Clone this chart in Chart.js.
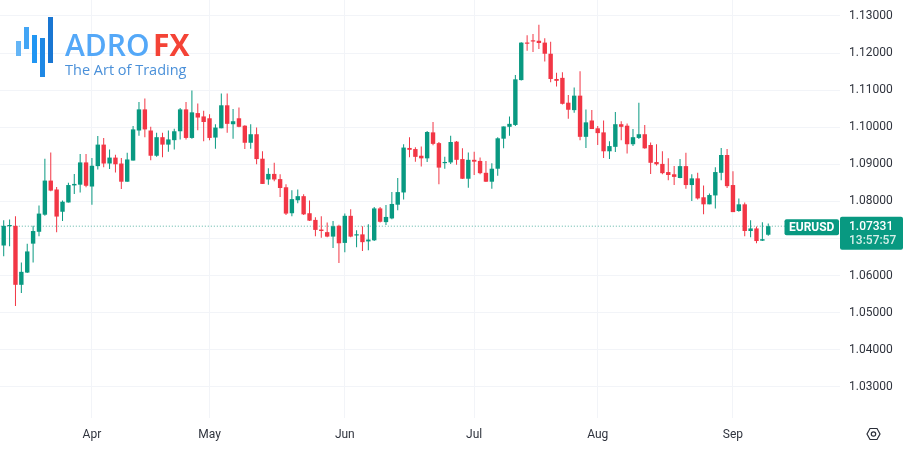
<!DOCTYPE html>
<html><head><meta charset="utf-8">
<style>html,body{margin:0;padding:0;background:#fff}canvas{display:block}</style>
<script src="https://cdn.jsdelivr.net/npm/chart.js@4"></script>
</head><body><canvas id="c" width="904" height="452"></canvas>
<script>
const opens=[1.0681,1.0733,1.0734,1.0575,1.0608,1.0686,1.0718,1.0764,1.0856,1.0832,
1.0772,1.0797,1.0843,1.0845,1.0905,1.0840,1.0895,1.0953,1.0902,1.0918,
1.0902,1.0853,1.0910,1.0991,1.1048,1.0991,1.0923,1.0973,1.0953,1.0965,
1.0989,1.1048,1.0971,1.1038,1.1029,1.1024,1.0972,1.0997,1.1059,1.1008,
1.1024,1.1004,1.0958,1.0981,1.0915,1.0859,1.0874,1.0860,1.0838,1.0768,
1.0803,1.0814,1.0768,1.0750,1.0724,1.0717,1.0705,1.0734,1.0688,1.0761,
1.0708,1.0711,1.0692,1.0695,1.0781,1.0744,1.0754,1.0791,1.0824,1.0944,
1.0941,1.0923,1.0916,1.0986,1.0957,1.0903,1.0905,1.0961,1.0914,1.0861,
1.0912,1.0909,1.0877,1.0853,1.0888,1.0969,1.1001,1.1006,1.1127,1.1228,
1.1233,1.1233,1.1228,1.1198,1.1130,1.1133,1.1066,1.1046,1.1085,1.0974,
1.1018,1.0997,1.0986,1.0935,1.0947,1.1008,1.1004,1.0954,1.0971,1.0981,
1.0952,1.0906,1.0901,1.0879,1.0873,1.0863,1.0895,1.0844,1.0862,1.0811,
1.0792,1.0816,1.0877,1.0925,1.0844,1.0774,1.0792,1.0720,1.0727,1.0694,1.0710];
const highs=[1.0749,1.0751,1.0760,1.0635,1.0686,1.0734,1.0789,1.0915,1.0932,1.0839,
1.0802,1.0850,1.0874,1.0928,1.0928,1.0917,1.0976,1.0971,1.0940,1.0926,
1.0917,1.0931,1.1003,1.1068,1.1077,1.1001,1.0985,1.0985,1.0991,1.0996,
1.1052,1.1068,1.1099,1.1064,1.1044,1.1035,1.1008,1.1091,1.1091,1.1049,
1.1053,1.1005,1.1008,1.0999,1.0935,1.0889,1.0904,1.0873,1.0846,1.0830,
1.0832,1.0819,1.0802,1.0757,1.0760,1.0743,1.0747,1.0737,1.0767,1.0779,
1.0722,1.0733,1.0738,1.0785,1.0785,1.0790,1.0825,1.0863,1.0954,1.0973,
1.0946,1.0948,1.0990,1.1014,1.0960,1.0920,1.0977,1.0963,1.0943,1.0932,
1.0934,1.0918,1.0909,1.0903,1.0973,1.1002,1.1029,1.1141,1.1229,1.1248,
1.1251,1.1276,1.1240,1.1230,1.1147,1.1148,1.1087,1.1107,1.1151,1.1048,
1.1046,1.1003,1.1018,1.0962,1.1041,1.1016,1.1010,1.0995,1.1066,1.1006,
1.0959,1.0954,1.0935,1.0916,1.0895,1.0914,1.0931,1.0873,1.0877,1.0843,
1.0821,1.0892,1.0944,1.0941,1.0881,1.0808,1.0797,1.0749,1.0732,1.0744,1.0740];
const lows=[1.0652,1.0679,1.0518,1.0553,1.0607,1.0635,1.0706,1.0761,1.0827,1.0717,
1.0747,1.0797,1.0820,1.0824,1.0838,1.0791,1.0886,1.0892,1.0887,1.0878,
1.0833,1.0853,1.0910,1.0977,1.0973,1.0911,1.0920,1.0919,1.0934,1.0940,
1.0967,1.0967,1.0969,1.0992,1.0962,1.0965,1.0942,1.0997,1.0985,1.0969,
1.1000,1.0941,1.0942,1.0900,1.0847,1.0845,1.0854,1.0812,1.0763,1.0760,
1.0795,1.0763,1.0747,1.0706,1.0702,1.0703,1.0674,1.0634,1.0663,1.0703,
1.0676,1.0666,1.0668,1.0693,1.0743,1.0736,1.0752,1.0776,1.0805,1.0919,
1.0907,1.0894,1.0906,1.0951,1.0846,1.0888,1.0901,1.0899,1.0860,1.0837,
1.0871,1.0873,1.0852,1.0834,1.0869,1.0943,1.0977,1.1003,1.1126,1.1206,
1.1203,1.1211,1.1177,1.1121,1.1110,1.1061,1.1023,1.1039,1.0965,1.0944,
1.0995,1.0952,1.0917,1.0914,1.0933,1.0965,1.0929,1.0949,1.0968,1.0942,
1.0874,1.0897,1.0873,1.0857,1.0844,1.0862,1.0834,1.0801,1.0805,1.0765,
1.0792,1.0781,1.0857,1.0836,1.0771,1.0772,1.0706,1.0703,1.0687,1.0693,1.0707];
const closes=[1.0734,1.0734,1.0575,1.0610,1.0665,1.0720,1.0767,1.0856,1.0829,1.0759,
1.0799,1.0844,1.0847,1.0905,1.0842,1.0896,1.0953,1.0902,1.0918,1.0900,
1.0853,1.0913,1.0994,1.1048,1.0994,1.0923,1.0973,1.0953,1.0967,1.0989,
1.1048,1.0971,1.1040,1.1026,1.1014,1.0971,1.0999,1.1059,1.1009,1.1016,
1.1001,1.0958,1.0981,1.0914,1.0847,1.0874,1.0859,1.0836,1.0767,1.0806,
1.0814,1.0765,1.0748,1.0723,1.0720,1.0705,1.0733,1.0687,1.0761,1.0705,
1.0711,1.0690,1.0697,1.0781,1.0745,1.0758,1.0793,1.0825,1.0945,1.0939,
1.0920,1.0916,1.0987,1.0955,1.0891,1.0906,1.0960,1.0912,1.0861,1.0912,
1.0907,1.0876,1.0853,1.0888,1.0970,1.1002,1.1009,1.1129,1.1228,1.1225,
1.1231,1.1227,1.1198,1.1130,1.1125,1.1063,1.1047,1.1085,1.0974,1.1013,
1.0995,1.0984,1.0935,1.0949,1.1008,1.1001,1.0954,1.0973,1.0981,1.0943,
1.0904,1.0900,1.0876,1.0871,1.0866,1.0895,1.0844,1.0862,1.0808,1.0792,
1.0817,1.0879,1.0925,1.0841,1.0771,1.0792,1.0720,1.0727,1.0693,1.0698,1.07331];
const monthLabels=["Apr","May","Jun","Jul","Aug","Sep"];
const monthBars=[15,35,58,80,101,124];
const priceTicks=[1.03,1.04,1.05,1.06,1.07,1.08,1.09,1.10,1.11,1.12,1.13];
const lastPrice=1.07331;
const symbolName="EURUSD";
const countdown="13:57:57";

const GREEN="#089981",RED="#f23645",GRID="#f2f4f8",TXT="#2f333d";
const FONT="Roboto, 'Liberation Sans', sans-serif";
const colors=opens.map((o,i)=>closes[i]>=o?GREEN:RED);
const idx=opens.map((_,i)=>i);

const overlay={id:"overlay",afterDraw(ch){
  const g=ch.ctx,y=ch.scales.y;
  g.save();
  // logo
  [[16,41,5,15,"#64b5f6"],[24,27,5,22,"#42a5f5"],[32,35,5,28,"#2196f3"],[40,38,5,39,"#1e88e5"],[48,17,5,46,"#1976d2"]]
    .forEach(r=>{g.fillStyle=r[4];g.fillRect(r[0],r[1],r[2],r[3]);});
  g.textAlign="left";g.textBaseline="alphabetic";
  g.font="600 30px 'Open Sans', sans-serif";g.fillStyle="#54a8f8";g.fillText("ADRO",65,56);
  g.font="700 30px 'Open Sans', sans-serif";g.fillStyle="#f44336";g.fillText("FX",153,56);
  g.font="14.5px 'Open Sans', sans-serif";g.fillStyle="#4a90d9";g.fillText("The Art of Trading",65,75);
  // last price tags
  const py=y.getPixelForValue(lastPrice);
  g.fillStyle=GREEN;
  g.beginPath();g.roundRect(784.5,py-7,54.5,16,2);g.fill();
  g.beginPath();g.roundRect(840,py-9.5,63,33,2);g.fill();
  g.fillStyle="#fff";g.textBaseline="middle";
  g.font="bold 12px "+FONT;g.textAlign="center";g.fillText(symbolName,811.7,py+1.5);
  g.font="500 12px "+FONT;g.textAlign="left";g.fillText(lastPrice.toFixed(5),849,py+0.5);
  g.fillStyle="#d6efe9";g.fillText(countdown,849,py+15);
  // settings icon
  const cx=873.5,cy=434;
  g.strokeStyle="#2a2e39";g.lineWidth=1.2;
  g.beginPath();
  [[-6.5,0],[-3.5,-5.5],[3.5,-5.5],[6.5,0],[3.5,5.5],[-3.5,5.5]].forEach((p,i)=>i?g.lineTo(cx+p[0],cy+p[1]):g.moveTo(cx+p[0],cy+p[1]));
  g.closePath();g.stroke();
  g.beginPath();g.arc(cx,cy,2.2,0,Math.PI*2);g.stroke();
  g.restore();
}};

new Chart(document.getElementById("c"),{
  type:"bar",
  data:{datasets:[
    {type:"line",data:[{x:-1,y:lastPrice},{x:134,y:lastPrice}],borderColor:"#58b3a3",borderWidth:1,borderDash:[1,2],pointRadius:0,order:3},
    {data:idx.map(i=>({x:i,y:[lows[i],highs[i]]})),backgroundColor:colors,barThickness:1,grouped:false,order:2,inflateAmount:0,borderWidth:0},
    {data:idx.map(i=>({x:i,y:[Math.min(opens[i],closes[i]),Math.max(opens[i],closes[i])]})),backgroundColor:colors,barThickness:4.4,minBarLength:1.2,grouped:false,order:1,inflateAmount:0,borderWidth:0}
  ]},
  options:{
    responsive:false,animation:false,devicePixelRatio:1,
    layout:{padding:0},
    plugins:{legend:{display:false},tooltip:{enabled:false},title:{display:false}},
    scales:{
      x:{type:"linear",min:-0.63,max:142.2,offset:false,
        grid:{color:GRID,lineWidth:1,drawTicks:false,offset:false},border:{display:false},
        afterBuildTicks(s){s.ticks=monthBars.map(v=>({value:v}));},
        afterFit(s){s.height=34;s.paddingLeft=0;s.paddingRight=0;},
        ticks:{autoSkip:false,maxRotation:0,padding:10,color:TXT,font:{family:FONT,size:12},
          callback:v=>monthLabels[monthBars.indexOf(v)]||""}},
      y:{type:"linear",position:"right",min:1.02159,max:1.13429,
        grid:{color:GRID,lineWidth:1,drawTicks:false},border:{display:false},
        afterBuildTicks(s){s.ticks=priceTicks.map(v=>({value:v}));},
        afterFit(s){s.width=64;s.paddingTop=0;s.paddingBottom=0;},
        ticks:{padding:9,color:TXT,font:{family:FONT,size:12},callback:v=>v.toFixed(5)}}
    }
  },
  plugins:[overlay]
});
</script></body></html>
